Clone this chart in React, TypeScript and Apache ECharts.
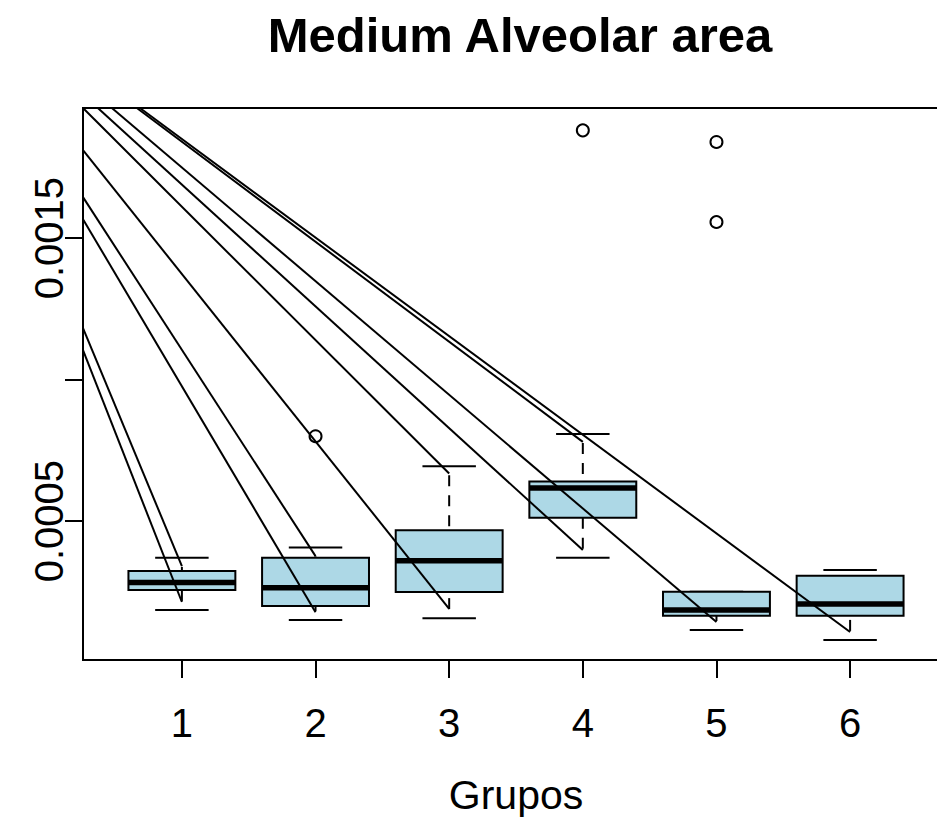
import React, { useEffect, useRef } from 'react';
import * as echarts from 'echarts';

// ---- data ----
const groups = [1, 2, 3, 4, 5, 6];
const groupLabels = ['1', '2', '3', '4', '5', '6'];
const whiskerLow = [0.000186, 0.00015, 0.000157, 0.00037, 0.000115, 0.00008];
const q1 = [0.000256, 0.0002, 0.000249, 0.000512, 0.000165, 0.000165];
const median = [0.000283, 0.000264, 0.00036, 0.000617, 0.000186, 0.000207];
const q3 = [0.000324, 0.00037, 0.000468, 0.00064, 0.00025, 0.000307];
const whiskerHigh = [0.00037, 0.000407, 0.000694, 0.000808, 0.00025, 0.000327];

const outlierGroup = [2, 4, 5, 5];
const outlierValue = [0.0008, 0.001881, 0.00184, 0.001557];

// straight segments drawn over the boxes (start clipped at the plot frame)
const segStartX = [0.26, 0.26, 0.26, 0.26, 0.26, 0.26, 0.663, 0.371, 0.476, 0.686];
const segStartY = [0.001182, 0.001104, 0.001645, 0.001567, 0.00196, 0.001811, 0.00196, 0.00196, 0.00196, 0.00196];
const segEndX = [1, 1, 2, 2, 3, 3, 4, 4, 5, 6];
const segEndY = [0.000341, 0.000214, 0.000376, 0.000178, 0.000668, 0.00019, 0.00078, 0.000398, 0.000143, 0.000108];

const yTicks = [0.0005, 0.001, 0.0015];
const yLabels = [0.0005, 0.0015];

const X_MIN = 0.26;
const X_MAX = 6.74;
const Y_MIN = 0.000009;
const Y_MAX = 0.00196;

const FONT = '"Liberation Sans", Arial, Helvetica, sans-serif';

export default function App() {
  const ref = useRef<HTMLDivElement>(null);

  useEffect(() => {
    if (!ref.current) return;
    const chart = echarts.init(ref.current, undefined, { renderer: 'svg' });

    const boxData = groups.map((g, i) => [g, whiskerLow[i], q1[i], median[i], q3[i], whiskerHigh[i]]);

    const segSeries = segEndX.map((ex, i) => ({
      type: 'line',
      data: [
        [segStartX[i], segStartY[i]],
        [ex, segEndY[i]],
      ],
      symbol: 'none',
      showSymbol: false,
      lineStyle: { color: '#000', width: 2 },
      clip: true,
      silent: true,
      z: 5,
    }));

    const option: any = {
      animation: false,
      backgroundColor: '#fff',
      grid: {
        left: 83,
        top: 108,
        width: 866,
        height: 552,
        outerBoundsMode: 'none',
        containLabel: false,
        show: true,
        borderColor: '#000',
        borderWidth: 2,
        backgroundColor: 'transparent',
      },
      graphic: [
        {
          type: 'text',
          x: 520,
          y: 35,
          style: {
            text: 'Medium Alveolar area',
            font: `bold 49px ${FONT}`,
            fill: '#000',
            align: 'center',
            verticalAlign: 'middle',
          },
        },
      ],
      xAxis: {
        type: 'value',
        min: X_MIN,
        max: X_MAX,
        axisLine: { show: false },
        splitLine: { show: false },
        axisTick: {
          show: true,
          customValues: groups,
          length: 18,
          lineStyle: { color: '#000', width: 2 },
        },
        axisLabel: {
          show: true,
          customValues: groups,
          formatter: (v: number) => groupLabels[groups.indexOf(Math.round(v))],
          fontSize: 40,
          fontFamily: FONT,
          color: '#000',
          margin: 43,
        },
        name: 'Grupos',
        nameLocation: 'middle',
        nameGap: 114,
        nameTextStyle: { fontSize: 41, fontFamily: FONT, color: '#000' },
      },
      yAxis: {
        type: 'value',
        min: Y_MIN,
        max: Y_MAX,
        axisLine: { show: false },
        splitLine: { show: false },
        axisTick: {
          show: true,
          customValues: yTicks,
          length: 18,
          lineStyle: { color: '#000', width: 2 },
        },
        axisLabel: {
          show: true,
          customValues: yLabels,
          rotate: 90,
          formatter: (v: number) => v.toFixed(4),
          fontSize: 40,
          fontFamily: FONT,
          color: '#000',
          margin: 14,
        },
      },
      series: [
        {
          type: 'custom',
          data: boxData,
          encode: { x: 0, y: [1, 2, 3, 4, 5] },
          z: 3,
          renderItem: (params: any, api: any) => {
            const g = api.value(0);
            const pLow = api.coord([g, api.value(1)]);
            const pQ1 = api.coord([g, api.value(2)]);
            const pMed = api.coord([g, api.value(3)]);
            const pQ3 = api.coord([g, api.value(4)]);
            const pHigh = api.coord([g, api.value(5)]);
            const boxW = api.size([0.8, 0])[0];
            const capW = api.size([0.4, 0])[0];
            const cx = pMed[0];
            const solid = { stroke: '#000', lineWidth: 2, fill: 'none' };
            const dashed = { stroke: '#000', lineWidth: 2, fill: 'none', lineDash: [11, 9], lineDashOffset: 11 };
            return {
              type: 'group',
              children: [
                { type: 'line', shape: { x1: cx, y1: pHigh[1], x2: cx, y2: pQ3[1] }, style: dashed },
                { type: 'line', shape: { x1: cx, y1: pLow[1], x2: cx, y2: pQ1[1] }, style: dashed },
                { type: 'line', shape: { x1: cx - capW / 2, y1: pHigh[1], x2: cx + capW / 2, y2: pHigh[1] }, style: solid },
                { type: 'line', shape: { x1: cx - capW / 2, y1: pLow[1], x2: cx + capW / 2, y2: pLow[1] }, style: solid },
                {
                  type: 'rect',
                  shape: { x: cx - boxW / 2, y: pQ3[1], width: boxW, height: pQ1[1] - pQ3[1] },
                  style: { fill: '#ADD8E6', stroke: '#000', lineWidth: 2 },
                },
                {
                  type: 'line',
                  shape: { x1: cx - boxW / 2, y1: pMed[1], x2: cx + boxW / 2, y2: pMed[1] },
                  style: { stroke: '#000', lineWidth: 5.5 },
                },
              ],
            };
          },
        },
        {
          type: 'scatter',
          data: outlierGroup.map((g, i) => [g, outlierValue[i]]),
          symbol: 'circle',
          symbolSize: 12,
          itemStyle: { color: 'rgba(0,0,0,0)', borderColor: '#000', borderWidth: 2, opacity: 1 },
          z: 4,
        },
        ...segSeries,
      ],
    };

    chart.setOption(option);
    return () => chart.dispose();
  }, []);

  return (
    <div
      ref={ref}
      style={{ position: 'fixed', left: 0, top: 0, width: 937, height: 819, background: '#fff' }}
    />
  );
}
